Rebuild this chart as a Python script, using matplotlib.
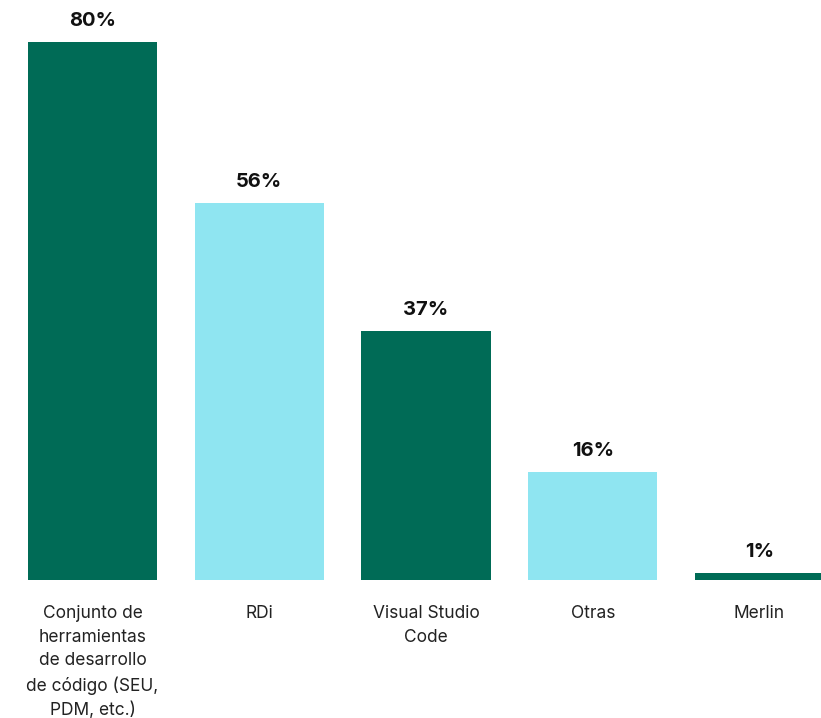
import numpy as np
import matplotlib
matplotlib.use('Agg')
import matplotlib.pyplot as plt

plt.rcParams['font.family'] = ['Inter', 'DejaVu Sans']

categorias = ['Conjunto de\nherramientas\nde desarrollo\nde código (SEU,\nPDM, etc.)',
              'RDi', 'Visual Studio\nCode', 'Otras', 'Merlin']
valores = [80, 56, 37, 16, 1]
colores = ['#006B56', '#8FE5F1', '#006B56', '#8FE5F1', '#006B56']

fig = plt.figure(figsize=(8.21, 7.18), dpi=100)
ax = fig.add_axes([0, 1 - 580 / 718, 1, 580 / 718])

x = np.arange(len(categorias))
ax.bar(x, valores, width=0.774, color=colores)

for xi, v in zip(x, valores):
    ax.annotate(f'{v}%', (xi, v), xytext=(0, 9), textcoords='offset points',
                ha='center', va='bottom', fontsize=14.5, fontweight='bold', color='#111111')

ax.set_xlim(-0.555, 4.369)
ax.set_ylim(0, 86.25)
ax.set_xticks(x)
ax.set_xticklabels(categorias, fontsize=12.5, color='#222222', linespacing=1.5)
ax.tick_params(axis='x', length=0, pad=18)
ax.set_yticks([])
for s in ax.spines.values():
    s.set_visible(False)

fig.savefig('out.png', dpi=100)
